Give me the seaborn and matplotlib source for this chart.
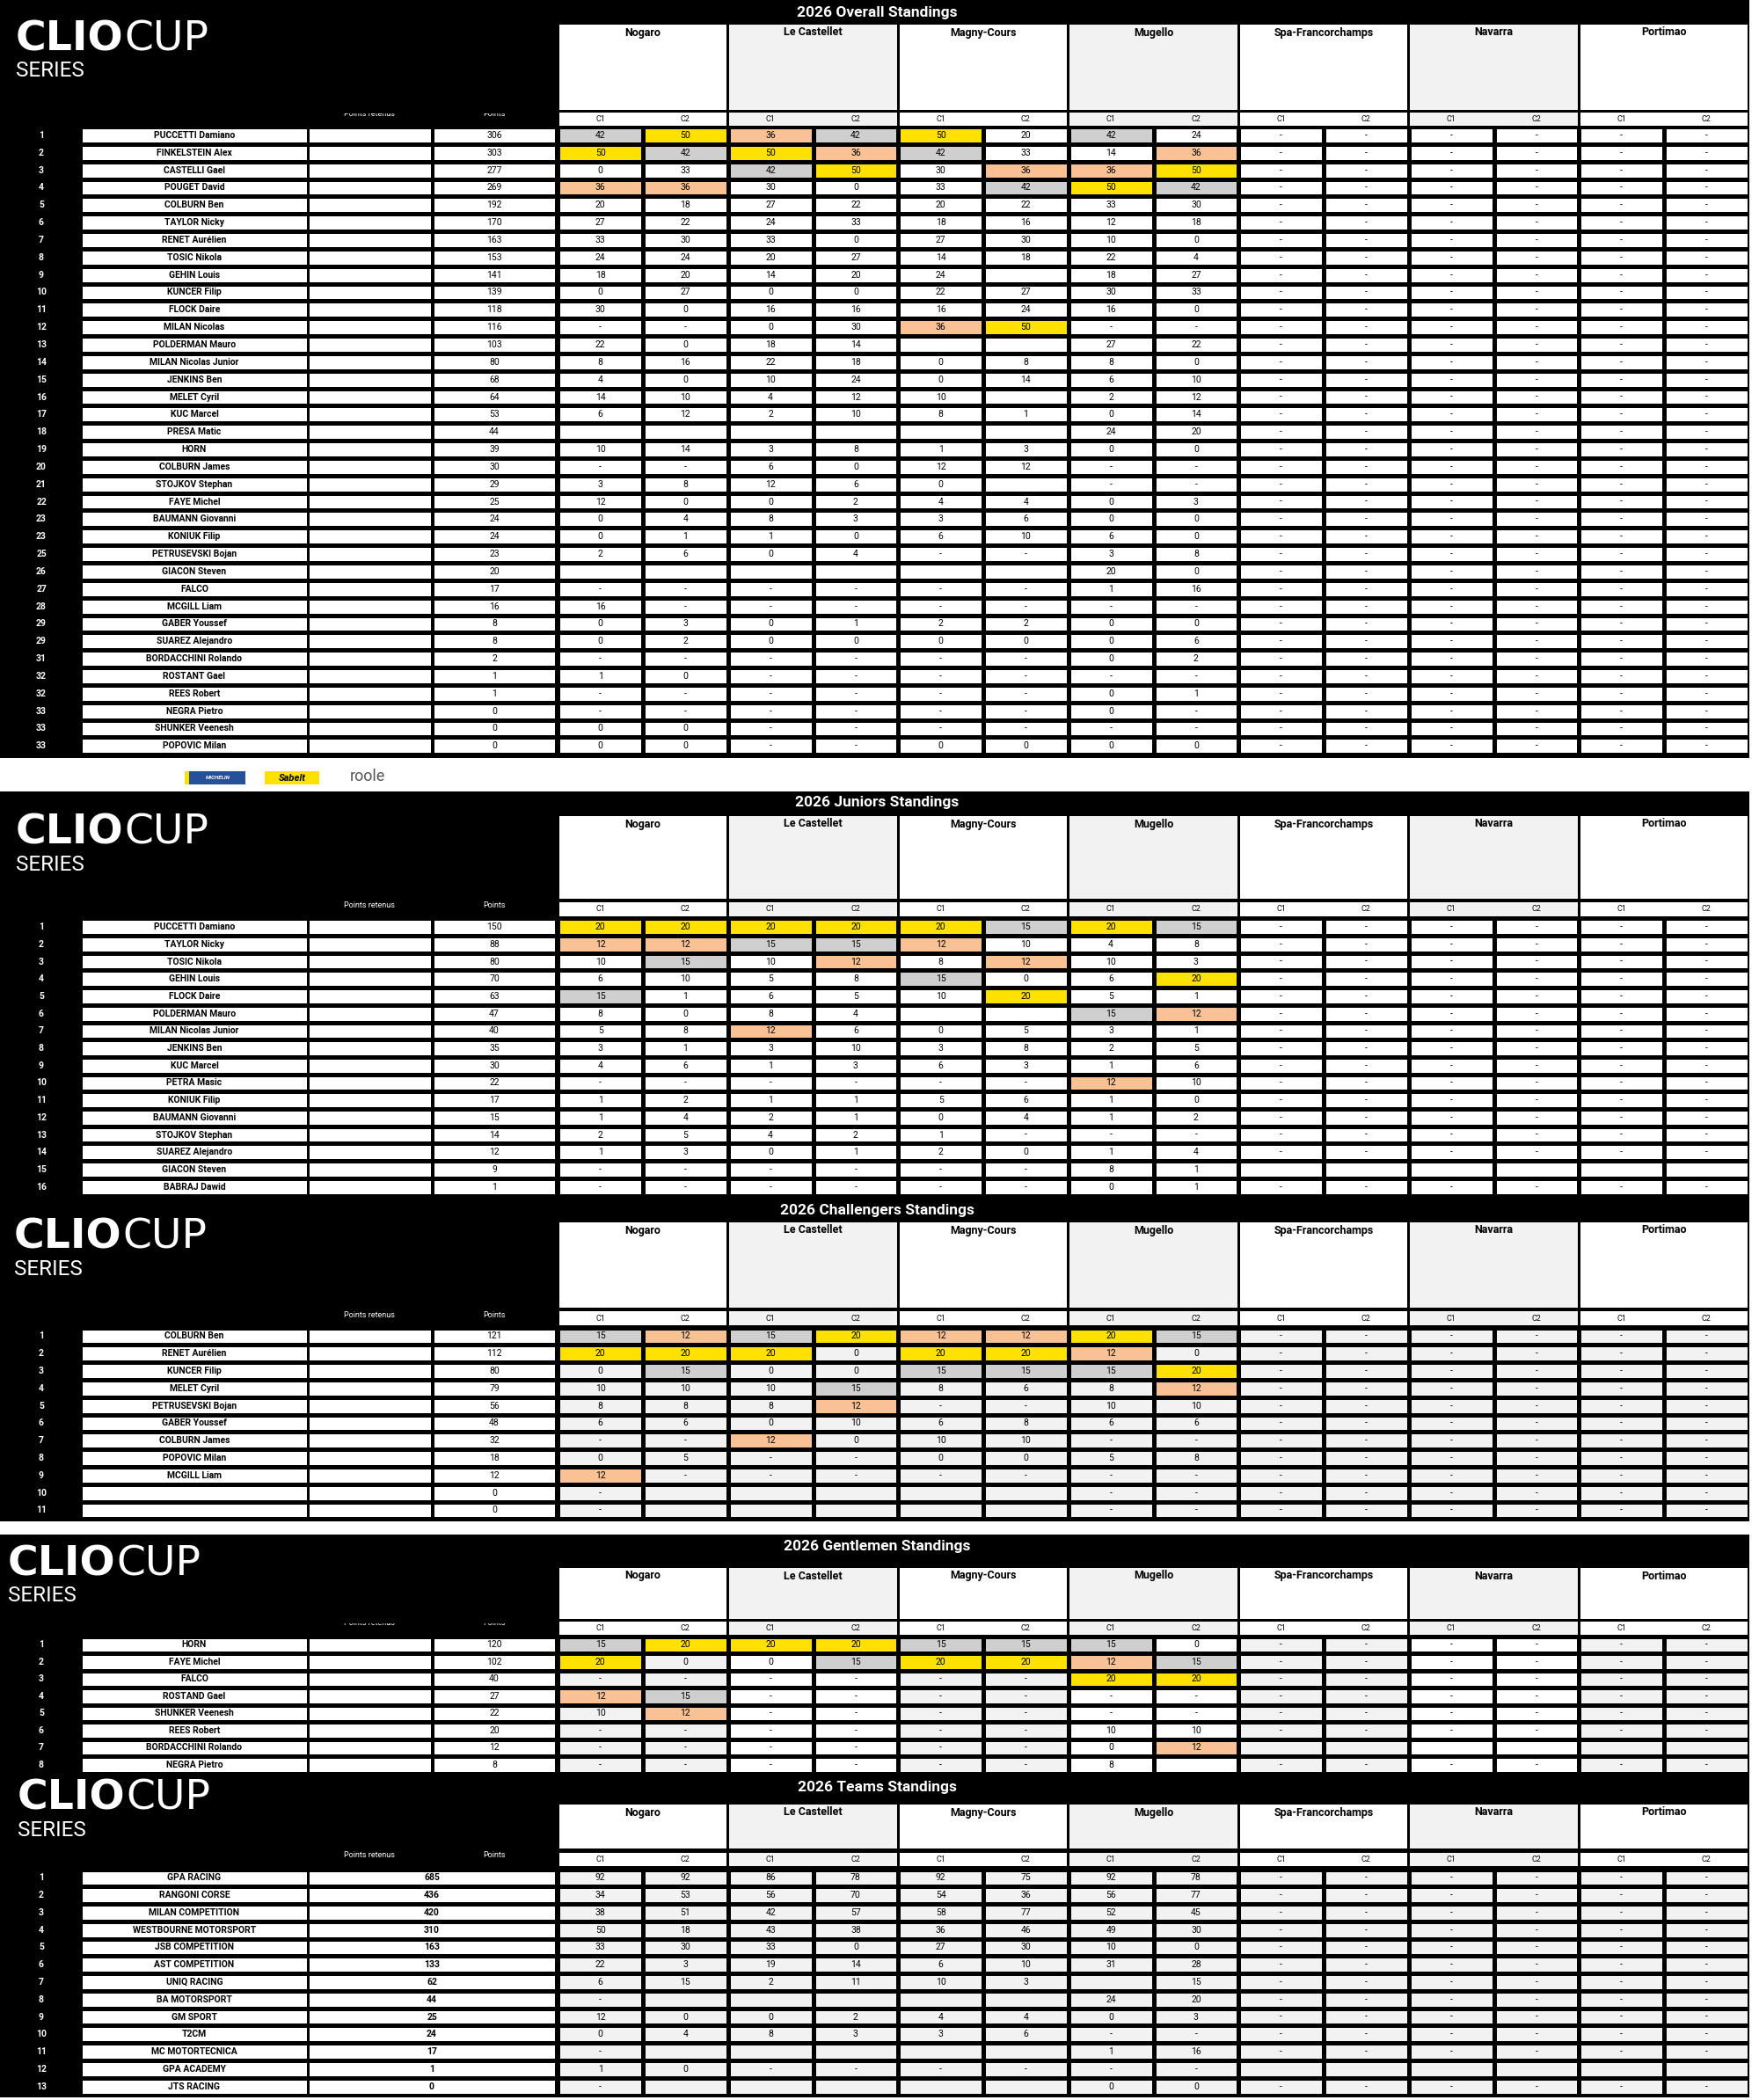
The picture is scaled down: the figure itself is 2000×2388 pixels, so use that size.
import numpy as np
import matplotlib
matplotlib.use("Agg")
import matplotlib.pyplot as plt
from matplotlib.colors import ListedColormap
from matplotlib.patches import Rectangle
import seaborn as sns

# --- venues / races ---
venues = ["Nogaro", "Le Castellet", "Magny-Cours", "Mugello", "Spa-Francorchamps", "Navarra", "Portimao"]
races = ["C1", "C2"]

# --- Overall standings (results of the 4 first meetings, "." = empty cell) ---
overall_rank = [1, 2, 3, 4, 5, 6, 7, 8, 9, 10, 11, 12, 13, 14, 15, 16, 17, 18, 19, 20, 21, 22,
                23, 23, 25, 26, 27, 28, 29, 29, 31, 32, 32, 33, 33, 33]
overall_names = ["PUCCETTI Damiano", "FINKELSTEIN Alex", "CASTELLI Gael", "POUGET David", "COLBURN Ben",
                 "TAYLOR Nicky", "RENET Aurélien", "TOSIC Nikola", "GEHIN Louis", "KUNCER Filip",
                 "FLOCK Daire", "MILAN Nicolas", "POLDERMAN Mauro", "MILAN Nicolas Junior", "JENKINS Ben",
                 "MELET Cyril", "KUC Marcel", "PRESA Matic", "HORN", "COLBURN James", "STOJKOV Stephan",
                 "FAYE Michel", "BAUMANN Giovanni", "KONIUK Filip", "PETRUSEVSKI Bojan", "GIACON Steven",
                 "FALCO", "MCGILL Liam", "GABER Youssef", "SUAREZ Alejandro", "BORDACCHINI Rolando",
                 "ROSTANT Gael", "REES Robert", "NEGRA Pietro", "SHUNKER Veenesh", "POPOVIC Milan"]
overall_points = [306, 303, 277, 269, 192, 170, 163, 153, 141, 139, 118, 116, 103, 80, 68, 64, 53, 44,
                  39, 30, 29, 25, 24, 24, 23, 20, 17, 16, 8, 8, 2, 1, 1, 0, 0, 0]
overall_results = [
    "42 50 36 42 50 20 42 24", "50 42 50 36 42 33 14 36", "0 33 42 50 30 36 36 50",
    "36 36 30 0 33 42 50 42", "20 18 27 22 20 22 33 30", "27 22 24 33 18 16 12 18",
    "33 30 33 0 27 30 10 0", "24 24 20 27 14 18 22 4", "18 20 14 20 24 . 18 27",
    "0 27 0 0 22 27 30 33", "30 0 16 16 16 24 16 0", "- - 0 30 36 50 - -",
    "22 0 18 14 . . 27 22", "8 16 22 18 0 8 8 0", "4 0 10 24 0 14 6 10",
    "14 10 4 12 10 . 2 12", "6 12 2 10 8 1 0 14", ". . . . . . 24 20",
    "10 14 3 8 1 3 0 0", "- - 6 0 12 12 - -", "3 8 12 6 0 . - -",
    "12 0 0 2 4 4 0 3", "0 4 8 3 3 6 0 0", "0 1 1 0 6 10 6 0",
    "2 6 0 4 - - 3 8", ". . . . . . 20 0", "- - - - - - 1 16",
    "16 - - - - - - -", "0 3 0 1 2 2 0 0", "0 2 0 0 0 0 0 6",
    "- - - - - - 0 2", "1 0 - - - - - -", "- - - - - - 0 1",
    "- - - - - - 0 -", "0 0 - - - - - -", "0 0 - - 0 0 0 0",
]
overall_blank_future = []

# --- Juniors ---
juniors_rank = list(range(1, 17))
juniors_names = ["PUCCETTI Damiano", "TAYLOR Nicky", "TOSIC Nikola", "GEHIN Louis", "FLOCK Daire",
                 "POLDERMAN Mauro", "MILAN Nicolas Junior", "JENKINS Ben", "KUC Marcel", "PETRA Masic",
                 "KONIUK Filip", "BAUMANN Giovanni", "STOJKOV Stephan", "SUAREZ Alejandro",
                 "GIACON Steven", "BABRAJ Dawid"]
juniors_points = [150, 88, 80, 70, 63, 47, 40, 35, 30, 22, 17, 15, 14, 12, 9, 1]
juniors_results = [
    "20 20 20 20 20 15 20 15", "12 12 15 15 12 10 4 8", "10 15 10 12 8 12 10 3",
    "6 10 5 8 15 0 6 20", "15 1 6 5 10 20 5 1", "8 0 8 4 . . 15 12",
    "5 8 12 6 0 5 3 1", "3 1 3 10 3 8 2 5", "4 6 1 3 6 3 1 6",
    "- - - - - - 12 10", "1 2 1 1 5 6 1 0", "1 4 2 1 0 4 1 2",
    "2 5 4 2 1 - - -", "1 3 0 1 2 0 1 4", "- - - - - - 8 1",
    "- - - - - - 0 1",
]
juniors_blank_future = [14]

# --- Challengers ---
challengers_rank = list(range(1, 12))
challengers_names = ["COLBURN Ben", "RENET Aurélien", "KUNCER Filip", "MELET Cyril", "PETRUSEVSKI Bojan",
                     "GABER Youssef", "COLBURN James", "POPOVIC Milan", "MCGILL Liam", "", ""]
challengers_points = [121, 112, 80, 79, 56, 48, 32, 18, 12, 0, 0]
challengers_results = [
    "15 12 15 20 12 12 20 15", "20 20 20 0 20 20 12 0", "0 15 0 0 15 15 15 20",
    "10 10 10 15 8 6 8 12", "8 8 8 12 - - 10 10", "6 6 0 10 6 8 6 6",
    "- - 12 0 10 10 - -", "0 5 - - 0 0 5 8", "12 - - - - - - -",
    "- . . . . . - -", "- . . . . . - -",
]
challengers_blank_future = []

# --- Gentlemen ---
gentlemen_rank = list(range(1, 9))
gentlemen_names = ["HORN", "FAYE Michel", "FALCO", "ROSTAND Gael", "SHUNKER Veenesh", "REES Robert",
                   "BORDACCHINI Rolando", "NEGRA Pietro"]
gentlemen_points = [120, 102, 40, 27, 22, 20, 12, 8]
gentlemen_results = [
    "15 20 20 20 15 15 15 0", "20 0 0 15 20 20 12 15", "- - - - - - 20 20",
    "12 15 - - - - - -", "10 12 - - - - - -", "- - - - - - 10 10",
    "- - - - - - 0 12", "- - - - - - 8 .",
]
gentlemen_blank_future = [6]

# --- Teams ---
teams_rank = list(range(1, 14))
teams_names = ["GPA RACING", "RANGONI CORSE", "MILAN COMPETITION", "WESTBOURNE MOTORSPORT",
               "JSB COMPETITION", "AST COMPETITION", "UNIQ RACING", "BA MOTORSPORT", "GM SPORT",
               "T2CM", "MC MOTORTECNICA", "GPA ACADEMY", "JTS RACING"]
teams_points = [685, 436, 420, 310, 163, 133, 62, 44, 25, 24, 17, 1, 0]
teams_results = [
    "92 92 86 78 92 75 92 78", "34 53 56 70 54 36 56 77", "38 51 42 57 58 77 52 45",
    "50 18 43 38 36 46 49 30", "33 30 33 0 27 30 10 0", "22 3 19 14 6 10 31 28",
    "6 15 2 11 10 3 . 15", "- . . . . . 24 20", "12 0 0 2 4 4 0 3",
    "0 4 8 3 3 6 - -", "- . . . . . 1 16", "1 0 - - - - - -",
    "- . . . . . 0 0",
]
teams_blank_future = [11]

# --- figure / layout ---
W, H = 2000, 2388
FONT = "Roboto"
PALETTE = ["#ffffff", "#f2f2f2", "#cfcfcf", "#f8c294", "#ffe100", "#000000"]
cmap = ListedColormap(PALETTE)
LW = 2.4            # grid line width (pt) -> ~3.3 px
GAP = 3.3
GX, VW = 634.3, 193.5
RIGHT = GX + 7 * VW

fig = plt.figure(figsize=(W / 100, H / 100), dpi=100)
fig.patch.set_facecolor("white")
bg = fig.add_axes([0, 0, 1, 1])
bg.set_xlim(0, W)
bg.set_ylim(H, 0)
bg.axis("off")
renderer = fig.canvas.get_renderer()


def block(x0, x1, y0, y1, codes, labels, size=7.5, weight="normal", color="black", lw=LW):
    ax = fig.add_axes([x0 / W, 1 - y1 / H, (x1 - x0) / W, (y1 - y0) / H])
    sns.heatmap(codes, ax=ax, cmap=cmap, vmin=-0.5, vmax=5.5, cbar=False,
                annot=labels, fmt="", linewidths=lw, linecolor="black",
                xticklabels=False, yticklabels=False,
                annot_kws=dict(fontsize=size, fontweight=weight, color=color, fontfamily=FONT))
    ax.axis("off")
    return ax


def section(title, geo, rank, names, points, results, blank_future, podium, base, teams=False):
    top, bottom = geo["top"], geo["bottom"]
    bg.add_patch(Rectangle((0, top), RIGHT, bottom - top, color="black", lw=0))
    bg.text(997, geo["title"], title, color="white", fontsize=12.5, fontweight="bold",
            fontfamily=FONT, ha="center", va="center")

    # logo
    lx, ly = geo["logo"]
    clio = bg.text(lx, ly + 31, "CLIO", color="white", fontsize=34, fontweight="heavy",
                   fontfamily="DejaVu Sans", ha="left", va="baseline")
    ext = clio.get_window_extent(renderer=renderer)
    bg.text(ext.x1 + 1, ly + 31, "CUP", color="white", fontsize=34, fontweight="normal",
            fontfamily="DejaVu Sans", ha="left", va="baseline")
    bg.text(lx, ly + 61, "SERIES", color="white", fontsize=17.5, fontfamily=FONT,
            ha="left", va="baseline")

    # venue headers
    h0, h1 = geo["hdr"]
    c0, c1 = geo["crow"]
    for i, v in enumerate(venues):
        x = GX + i * VW
        face = "#ffffff" if i % 2 == 0 else "#f2f2f2"
        bg.add_patch(Rectangle((x + GAP / 2, h0), VW - GAP, h1 - h0, fc=face, lw=0))
        bg.text(x + VW / 2, h0 + 9, v, fontsize=9, fontweight="bold", fontfamily=FONT,
                ha="center", va="center")
        bg.add_patch(Rectangle((x + GAP / 2, c0), VW - GAP, c1 - c0, fc=face, lw=0))
        for k, r in enumerate(races):
            bg.text(x + VW * (0.25 + 0.5 * k), (c0 + c1) / 2, r, fontsize=6.5,
                    fontfamily=FONT, ha="center", va="center")

    # column labels
    ly2 = c0 + geo["lab_dy"]
    bg.text(420, ly2, "Points retenus", color="white", fontsize=6.5, fontfamily=FONT,
            ha="center", va="center")
    bg.text(562, ly2, "Points", color="white", fontsize=6.5, fontfamily=FONT,
            ha="center", va="center")
    if geo["clip"]:
        bg.add_patch(Rectangle((340, h1 - 8), 295, ly2 - h1 + 8, color="black", lw=0, zorder=5))

    # cells
    n = len(names)
    y0 = geo["row0"]
    y1 = y0 + n * geo["pitch"]
    cells = []
    for i, s in enumerate(results):
        row = ["" if t == "." else t for t in s.split()]
        fut = "" if i in blank_future else "-"
        cells.append(row + [fut] * 6)
    cells = np.array(cells, dtype=object)

    codes = np.zeros(cells.shape, dtype=int)
    for j in range(cells.shape[1]):
        codes[:, j] = base[j // 2]
    for k, val in enumerate(podium):
        codes[cells == str(val)] = [4, 2, 3][k]

    rank_lab = np.array([str(r) for r in rank], dtype=object).reshape(-1, 1)
    block(0, 94, y0, y1, np.full((n, 1), 5), rank_lab, size=7.5, weight="bold",
          color="white", lw=0)
    block(91.35, 350.65, y0, y1, np.zeros((n, 1), dtype=int),
          np.array(names, dtype=object).reshape(-1, 1), weight="bold")
    pts = np.array([str(p) for p in points], dtype=object).reshape(-1, 1)
    if teams:
        block(349.35, 632.65, y0, y1, np.zeros((n, 1), dtype=int), pts, weight="bold")
    else:
        block(349.35, 491.65, y0, y1, np.zeros((n, 1), dtype=int),
              np.full((n, 1), "", dtype=object))
        block(491.35, 632.65, y0, y1, np.zeros((n, 1), dtype=int), pts)
    block(GX, RIGHT, y0, y1, codes, cells)


WHITE_BASE = [0] * 7
GREY_BASE = [1] * 7
ALT_BASE = [1, 0, 1, 0, 1, 0, 1]

section("2026 Overall Standings",
        dict(top=0, bottom=862, title=14, hdr=(28, 125), crow=(128, 143), row0=144.0,
             pitch=19.84, logo=(18, 26), lab_dy=1, clip=True),
        overall_rank, overall_names, overall_points, overall_results, overall_blank_future,
        (50, 42, 36), WHITE_BASE)
section("2026 Juniors Standings",
        dict(top=900, bottom=1362, title=913, hdr=(928, 1022), crow=(1026, 1042), row0=1044.3,
             pitch=19.7, logo=(18, 929), lab_dy=3, clip=False),
        juniors_rank, juniors_names, juniors_points, juniors_results, juniors_blank_future,
        (20, 15, 12), WHITE_BASE)
section("2026 Challengers Standings",
        dict(top=1362, bottom=1730, title=1377, hdr=(1390, 1487), crow=(1491, 1507), row0=1509.5,
             pitch=19.8, logo=(16, 1389), lab_dy=4, clip=False),
        challengers_rank, challengers_names, challengers_points, challengers_results,
        challengers_blank_future, (20, 15, 12), GREY_BASE)
section("2026 Gentlemen Standings",
        dict(top=1745, bottom=2018, title=1759, hdr=(1783, 1841), crow=(1844, 1859), row0=1860.5,
             pitch=19.5, logo=(9, 1760), lab_dy=2, clip=True),
        gentlemen_rank, gentlemen_names, gentlemen_points, gentlemen_results,
        gentlemen_blank_future, (20, 15, 12), ALT_BASE)
section("2026 Teams Standings",
        dict(top=2018, bottom=2385, title=2033, hdr=(2052, 2102), crow=(2107, 2122), row0=2125.5,
             pitch=19.77, logo=(20, 2027), lab_dy=3, clip=False),
        teams_rank, teams_names, teams_points, teams_results, teams_blank_future,
        (), GREY_BASE, teams=True)

# --- sponsor strip under the overall table ---
bg.add_patch(Rectangle((210, 877), 69, 15, fc="#27509b", lw=0))
bg.add_patch(Rectangle((210, 877), 5, 15, fc="#ffe100", lw=0))
bg.text(248, 884.5, "MICHELIN", color="white", fontsize=4.5, fontweight="bold", style="italic",
        fontfamily=FONT, ha="center", va="center")
bg.add_patch(Rectangle((301, 877), 62, 15, fc="#ffe100", lw=0))
bg.text(332, 884.5, "Sabelt", color="black", fontsize=8, fontweight="bold", style="italic",
        fontfamily=FONT, ha="center", va="center")
bg.text(418, 883, "roole", color="#555555", fontsize=13, fontfamily=FONT,
        ha="center", va="center")

fig.savefig("out.png", dpi=100)
